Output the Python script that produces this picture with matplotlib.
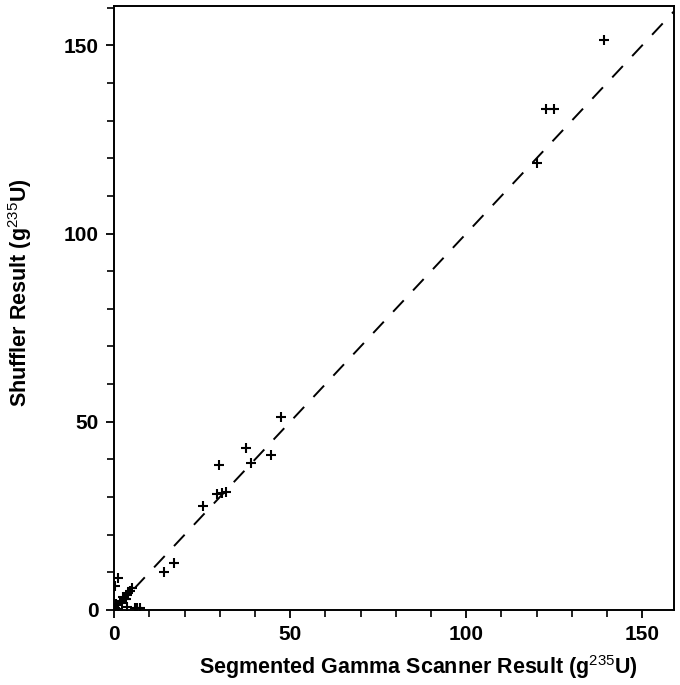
import matplotlib
matplotlib.use("Agg")
import matplotlib.pyplot as plt
from matplotlib.ticker import MultipleLocator

plt.rcParams['font.family'] = ['Liberation Sans', 'DejaVu Sans']
plt.rcParams['mathtext.fontset'] = 'custom'
plt.rcParams['mathtext.rm'] = 'Liberation Sans'

# Segmented gamma scanner result (x) vs shuffler result (y), g 235U
sgs = [139.2, 122.7, 124.8, 120.0, 47.3, 37.3, 44.4, 38.8, 29.7, 29.1, 30.5, 31.7,
       25.3, 17.0, 14.0, 1.2, 0.3, 0.5, 1.5, 2.5, 3.0, 3.5, 4.0, 4.5, 5.0, 3.2,
       2.2, 3.5, 5.8, 6.5, 7.2, 1.0, 0.3]
shuffler = [151.4, 133.0, 133.0, 118.8, 51.2, 43.0, 41.2, 39.1, 38.4, 30.7, 31.0, 31.3,
            27.6, 12.5, 10.0, 8.5, 6.5, 1.5, 2.5, 3.5, 2.8, 4.0, 4.5, 5.0, 5.8, 3.0,
            1.8, 0.8, 0.6, 0.6, 0.6, 0.3, 0.5]
line_ends = [0, 165]

fig = plt.figure(figsize=(6.8, 6.85), dpi=100)
ax = fig.add_axes([0.168, 0.1095, 0.823, 0.882])

ax.plot(line_ends, line_ends, color='black', lw=1.4, dashes=(8, 7))
ax.plot(sgs, shuffler, linestyle='none', marker='+', color='black',
        markersize=7, markeredgewidth=1.5)

ax.set_xlim(0, 159)
ax.set_ylim(0, 160.5)
ax.xaxis.set_major_locator(MultipleLocator(50))
ax.yaxis.set_major_locator(MultipleLocator(50))
ax.xaxis.set_minor_locator(MultipleLocator(10))
ax.yaxis.set_minor_locator(MultipleLocator(10))
ax.tick_params(which='major', direction='out', length=6, width=1.3,
               labelsize=15, pad=5)
ax.tick_params(which='minor', direction='out', length=5, width=1.2)
for lbl in ax.get_xticklabels() + ax.get_yticklabels():
    lbl.set_fontweight('bold')
for s in ax.spines.values():
    s.set_linewidth(1.4)

ax.set_xlabel('Segmented Gamma Scanner Result (g$^{235}$U)', fontsize=15.5,
              fontweight='bold')
ax.set_ylabel('Shuffler Result (g$^{235}$U)', fontsize=15.5,
              fontweight='bold')
ax.xaxis.set_label_coords(0.543, -0.072)
ax.yaxis.set_label_coords(-0.143, 0.525)

fig.savefig('out.png', dpi=100)
